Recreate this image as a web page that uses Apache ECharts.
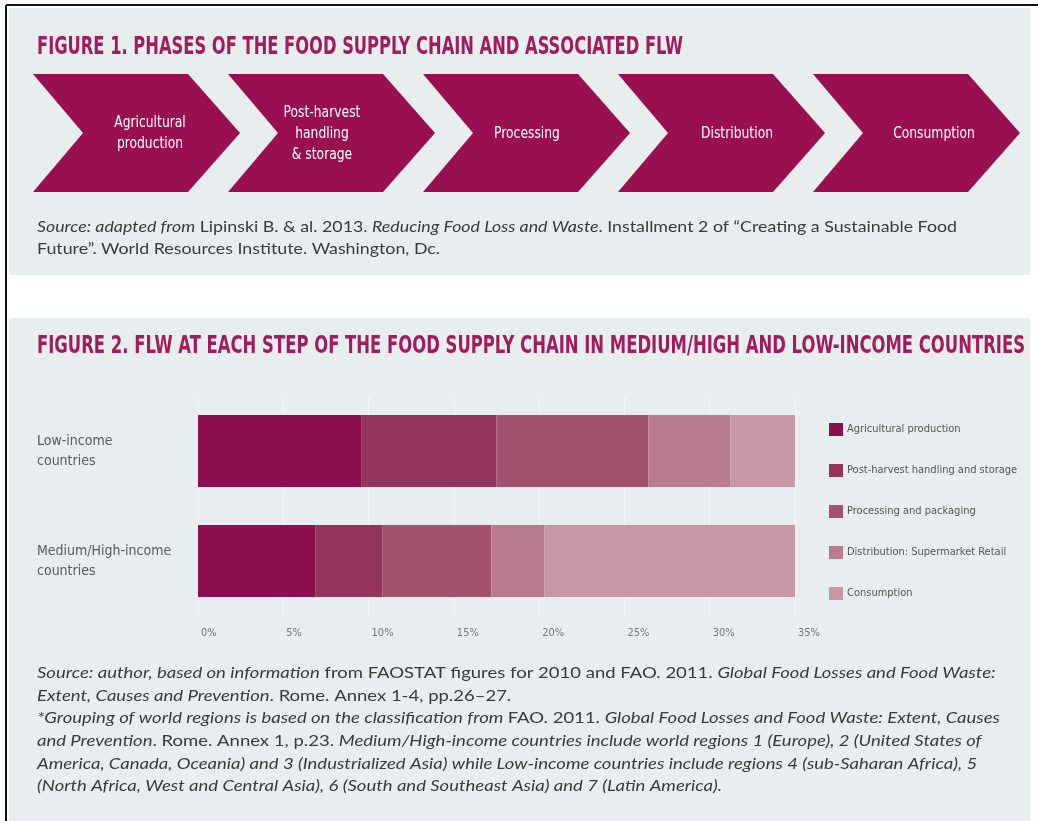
<!DOCTYPE html>
<html>
<head>
<meta charset="utf-8">
<script src="https://cdn.jsdelivr.net/npm/echarts@6/dist/echarts.min.js"></script>
<style>
  html, body { margin: 0; padding: 0; background: #ffffff; }
  #chart { width: 1038px; height: 821px; }
</style>
</head>
<body>
<div id="chart"></div>
<script>
// ---- Data ----
const phases = ['Agricultural\nproduction', 'Post-harvest\nhandling\n& storage', 'Processing', 'Distribution', 'Consumption'];
const categories = ['Low-income\ncountries', 'Medium/High-income\ncountries'];
const stages = [
  'Agricultural production',
  'Post-harvest handling and storage',
  'Processing and packaging',
  'Distribution: Supermarket Retail',
  'Consumption'
];
// share of food lost or wasted at each stage (%)
const lowIncome = [9.6, 7.9, 8.9, 4.8, 3.8];
const mediumHighIncome = [6.9, 3.9, 6.4, 3.1, 14.7];
const axisMin = 0;
const axisMax = 35;
const axisStep = 5;

const title1 = 'FIGURE 1. PHASES OF THE FOOD SUPPLY CHAIN AND ASSOCIATED FLW';
const title2 = 'FIGURE 2. FLW AT EACH STEP OF THE FOOD SUPPLY CHAIN IN MEDIUM/HIGH AND LOW-INCOME COUNTRIES';
// text runs: [text, italic]
const source1 = [
  [['Source: adapted from', true], [' Lipinski B. & al. 2013. ', false], ['Reducing Food Loss and Waste', true], ['. Installment 2 of “Creating a Sustainable Food', false]],
  [['Future”. World Resources Institute. Washington, Dc.', false]]
];
const source2 = [
  [['Source: author, based on information', true], [' from FAOSTAT figures for 2010 and FAO. 2011. ', false], ['Global Food Losses and Food Waste:', true]],
  [['Extent, Causes and Prevention', true], ['. Rome. Annex 1-4, pp.26–27.', false]],
  [['*Grouping of world regions is based on the classification from ', true], ['FAO. 2011. ', false], ['Global Food Losses and Food Waste: Extent, Causes', true]],
  [['and Prevention', true], ['. Rome. Annex 1, p.23. ', false], ['Medium/High-income countries include world regions 1 (Europe), 2 (United States of', true]],
  [['America, Canada, Oceania) and 3 (Industrialized Asia) while Low-income countries include regions 4 (sub-Saharan Africa), 5', true]],
  [['(North Africa, West and Central Asia), 6 (South and Southeast Asia) and 7 (Latin America).', true]]
];

// ---- Styling ----
const stageColors = ['#8c0f4d', '#94355d', '#a4506f', '#b87b8e', '#c996a6'];
const panelFill = '#e8edef';
const chevronFill = '#990f50';
const titleColor = '#a11c5c';

// ---- Text measuring helpers ----
const ctx = document.createElement('canvas').getContext('2d');
function measure(str, font) { ctx.font = font; return ctx.measureText(str).width; }
function hasFont(name) {
  const probe = 'abcdefghijklmnopWMi0123';
  return measure(probe, '20px monospace') !== measure(probe, '20px "' + name + '", monospace');
}
const COND = hasFont('Liberation Sans Narrow') ? '"Liberation Sans Narrow"'
  : (hasFont('DejaVu Sans Condensed') ? '"DejaVu Sans Condensed"' : 'Roboto');
const NOTE_FONT = 'Lato, "Open Sans", sans-serif';

function fontStr(size, family, weight, italic) {
  return (italic ? 'italic ' : '') + (weight || 'normal') + ' ' + size + 'px ' + family;
}
function runsWidth(runs, size) {
  return runs.reduce((w, r) => w + measure(r[0], fontStr(size, NOTE_FONT, 'normal', r[1])), 0);
}
function richText(runs) {
  return runs.map(r => '{' + (r[1] ? 'i' : 'n') + '|' + r[0].replace(/[{}|]/g, '') + '}').join('');
}

const graphics = [];

// page frame and panels
graphics.push({ type: 'rect', z: -20, shape: { x: 9, y: 8, width: 1021, height: 267 }, style: { fill: panelFill } });
graphics.push({ type: 'rect', z: -20, shape: { x: 9, y: 318, width: 1021, height: 503 }, style: { fill: panelFill } });
graphics.push({ type: 'line', z: -10, shape: { x1: 6, y1: 5, x2: 1038, y2: 5 }, style: { stroke: '#111', lineWidth: 2 } });
graphics.push({ type: 'line', z: -10, shape: { x1: 6, y1: 5, x2: 6, y2: 821 }, style: { stroke: '#111', lineWidth: 2 } });

// titles squeezed to their set widths
function titleText(str, x, y, width, size) {
  const w = measure(str, fontStr(size, COND, 'bold'));
  graphics.push({
    type: 'text', x: x, y: y, scaleX: width / w,
    style: { text: str, fill: titleColor, fontSize: size, fontWeight: 'bold', fontFamily: COND, align: 'left', verticalAlign: 'middle' }
  });
}
titleText(title1, 37, 47, 646, 25);
titleText(title2, 37, 347, 988, 24);

// supply chain chevrons
const chevTop = 74, chevBottom = 192, chevMid = 133;
const chevBody = 155, chevTip = 52, chevPeriod = 195, chevStart = 33;
const phaseLabelDx = [117, 94, 104, 119, 121];
const phaseSize = 15;
const phaseScale = 72 / measure('Distribution', fontStr(phaseSize, COND));
phases.forEach((p, i) => {
  const x0 = chevStart + i * chevPeriod;
  graphics.push({
    type: 'polygon', z: -5,
    shape: { points: [[x0, chevTop], [x0 + chevBody, chevTop], [x0 + chevBody + chevTip, chevMid], [x0 + chevBody, chevBottom], [x0, chevBottom], [x0 + chevTip - 2, chevMid]] },
    style: { fill: chevronFill }
  });
  graphics.push({
    type: 'text', x: x0 + phaseLabelDx[i], y: chevMid + 1, scaleX: phaseScale,
    style: { text: p, fill: '#ffffff', fontSize: phaseSize, fontFamily: COND, align: 'center', verticalAlign: 'middle', lineHeight: 21 }
  });
});

// source notes
function noteBlock(lines, x, y0, step, refIndex, refWidth, color) {
  const baseSize = 14;
  const size = Math.max(12, Math.min(16, baseSize * refWidth / runsWidth(lines[refIndex], baseSize)));
  const sx = refWidth / runsWidth(lines[refIndex], size);
  lines.forEach((runs, k) => {
    graphics.push({
      type: 'text', x: x, y: y0 + k * step, scaleX: sx,
      style: {
        text: richText(runs), align: 'left', verticalAlign: 'middle',
        fontSize: size, fontFamily: NOTE_FONT, fill: color,
        rich: {
          i: { fontSize: size, fontFamily: NOTE_FONT, fontStyle: 'italic', fill: color },
          n: { fontSize: size, fontFamily: NOTE_FONT, fontStyle: 'normal', fill: color }
        }
      }
    });
  });
}
noteBlock(source1, 37, 227, 22, 0, 920, '#3a3a3a');
noteBlock(source2, 37, 673, 22.6, 2, 963, '#3a3a3a');

// ---- Chart ----
const series = stages.map((name, i) => ({
  name: name,
  type: 'bar',
  stack: 'flw',
  barWidth: 72,
  itemStyle: { color: stageColors[i] },
  emphasis: { disabled: true },
  data: [lowIncome[i], mediumHighIncome[i]]
}));

const chart = echarts.init(document.getElementById('chart'), null, { renderer: 'canvas' });
chart.setOption({
  animation: false,
  backgroundColor: '#ffffff',
  graphic: { elements: graphics },
  legend: {
    orient: 'vertical',
    left: 824,
    top: 418,
    itemWidth: 14,
    itemHeight: 13,
    itemGap: 28,
    icon: 'rect',
    selectedMode: false,
    textStyle: { color: '#4f5753', fontSize: 11, fontFamily: COND, padding: [0, 0, 0, -1] },
    data: stages
  },
  grid: { left: 198, right: 243, top: 396, height: 220, containLabel: false },
  xAxis: {
    type: 'value',
    min: axisMin,
    max: axisMax,
    interval: axisStep,
    axisLine: { show: false },
    axisTick: { show: false },
    axisLabel: { formatter: '{value}%', color: '#767676', fontSize: 11, fontFamily: COND, align: 'left', margin: 12, padding: [0, 0, 0, 3] },
    splitLine: { show: true, lineStyle: { color: '#f4f7f8', width: 1 } }
  },
  yAxis: {
    type: 'category',
    inverse: true,
    data: categories,
    axisLine: { show: false },
    axisTick: { show: false },
    axisLabel: { align: 'left', margin: 161, color: '#5a5a5a', fontSize: 14, lineHeight: 20, fontFamily: COND }
  },
  series: series
});
</script>
</body>
</html>
